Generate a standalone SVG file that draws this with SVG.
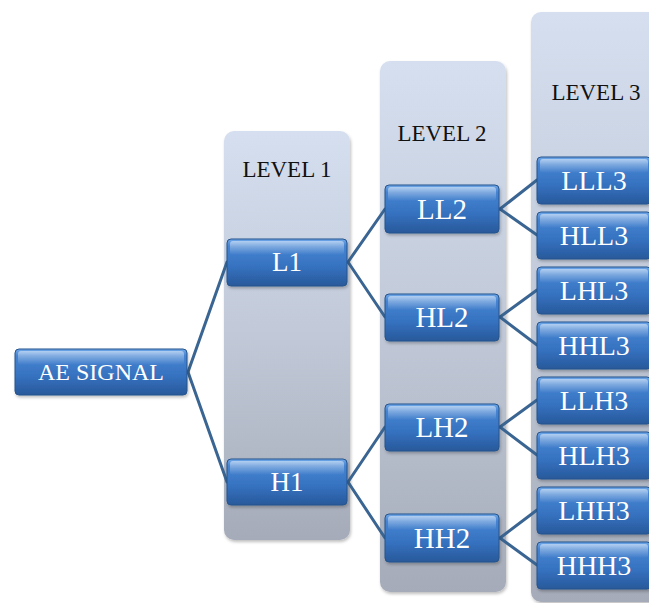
<svg xmlns="http://www.w3.org/2000/svg" width="649" height="603" viewBox="0 0 649 603">
<defs>
<linearGradient id="panelG" x1="0" y1="0" x2="0" y2="1">
<stop offset="0" stop-color="#D5DFEF"/>
<stop offset="0.5" stop-color="#C1C9D8"/>
<stop offset="1" stop-color="#A5ABB8"/>
</linearGradient>
<linearGradient id="nodeG" x1="0" y1="0" x2="0" y2="1">
<stop offset="0" stop-color="#6FA7E8"/>
<stop offset="0.15" stop-color="#4584D2"/>
<stop offset="0.6" stop-color="#3571BF"/>
<stop offset="1" stop-color="#28599A"/>
</linearGradient>
<linearGradient id="shineG" x1="0" y1="0" x2="0" y2="1">
<stop offset="0" stop-color="#FFFFFF" stop-opacity="0.5"/>
<stop offset="1" stop-color="#FFFFFF" stop-opacity="0"/>
</linearGradient>
<filter id="sh" x="-10%" y="-10%" width="130%" height="130%">
<feDropShadow dx="1" dy="2" stdDeviation="1.5" flood-color="#000" flood-opacity="0.25"/>
</filter>
</defs>
<style>
.panel{fill:url(#panelG);filter:url(#sh)}
.box{fill:url(#nodeG);stroke:#26548C;stroke-width:1;filter:url(#sh)}
.shine{fill:url(#shineG)}
.t{font-family:"Liberation Serif","Times New Roman",serif;fill:#FFFFFF;text-anchor:middle}
.lv{font-family:"Liberation Serif","Times New Roman",serif;fill:#111111;text-anchor:middle;font-size:23px}
.conn line{stroke:#3A6592;stroke-width:3;stroke-linecap:round}
</style>
<rect width="649" height="603" fill="#FFFFFF"/>
<g id="panels">
<rect class="panel" x="224" y="131" width="126" height="409" rx="10"/>
<rect class="panel" x="380" y="61" width="126" height="531" rx="10"/>
<rect class="panel" x="531" y="12" width="140" height="590" rx="10"/>
<text class="lv" x="287" y="177">LEVEL 1</text>
<text class="lv" x="442" y="141">LEVEL 2</text>
<text class="lv" x="596" y="100">LEVEL 3</text>
</g>
<g id="connectors" class="conn">
<line x1="188" y1="372" x2="227" y2="262"/>
<line x1="188" y1="372" x2="227" y2="482"/>
<line x1="348" y1="262" x2="385" y2="209"/>
<line x1="348" y1="262" x2="385" y2="317"/>
<line x1="348" y1="482" x2="385" y2="427"/>
<line x1="348" y1="482" x2="385" y2="538"/>
<line x1="500" y1="209" x2="537" y2="180"/>
<line x1="500" y1="209" x2="537" y2="235"/>
<line x1="500" y1="317" x2="537" y2="290"/>
<line x1="500" y1="317" x2="537" y2="345"/>
<line x1="500" y1="427" x2="537" y2="400"/>
<line x1="500" y1="427" x2="537" y2="455"/>
<line x1="500" y1="538" x2="537" y2="510"/>
<line x1="500" y1="538" x2="537" y2="565"/>
</g>
<g id="ae"><rect class="box" x="15" y="349" width="172" height="46" rx="4"/><rect class="shine" x="18" y="351" width="166" height="14" rx="3"/><text class="t" x="101" y="380" font-size="24">AE SIGNAL</text></g>
<g id="l1"><rect class="box" x="227" y="239" width="120" height="47" rx="4"/><rect class="shine" x="230" y="241" width="114" height="14" rx="3"/><text class="t" x="287" y="271" font-size="27">L1</text></g>
<g id="h1"><rect class="box" x="227" y="459" width="120" height="46" rx="4"/><rect class="shine" x="230" y="461" width="114" height="14" rx="3"/><text class="t" x="287" y="491" font-size="27">H1</text></g>
<g id="ll2"><rect class="box" x="385" y="185" width="114" height="48" rx="4"/><rect class="shine" x="388" y="187" width="108" height="14" rx="3"/><text class="t" x="442" y="219" font-size="29">LL2</text></g>
<g id="hl2"><rect class="box" x="385" y="294" width="114" height="47" rx="4"/><rect class="shine" x="388" y="296" width="108" height="14" rx="3"/><text class="t" x="442" y="327" font-size="29">HL2</text></g>
<g id="lh2"><rect class="box" x="385" y="404" width="114" height="47" rx="4"/><rect class="shine" x="388" y="406" width="108" height="14" rx="3"/><text class="t" x="442" y="437" font-size="29">LH2</text></g>
<g id="hh2"><rect class="box" x="385" y="514" width="114" height="48" rx="4"/><rect class="shine" x="388" y="516" width="108" height="14" rx="3"/><text class="t" x="442" y="548" font-size="29">HH2</text></g>
<g id="lll3"><rect class="box" x="537" y="157" width="114" height="47" rx="4"/><rect class="shine" x="540" y="159" width="108" height="14" rx="3"/><text class="t" x="594" y="190" font-size="28">LLL3</text></g>
<g id="hll3"><rect class="box" x="537" y="212" width="114" height="47" rx="4"/><rect class="shine" x="540" y="214" width="108" height="14" rx="3"/><text class="t" x="594" y="245" font-size="28">HLL3</text></g>
<g id="lhl3"><rect class="box" x="537" y="267" width="114" height="47" rx="4"/><rect class="shine" x="540" y="269" width="108" height="14" rx="3"/><text class="t" x="594" y="300" font-size="28">LHL3</text></g>
<g id="hhl3"><rect class="box" x="537" y="322" width="114" height="47" rx="4"/><rect class="shine" x="540" y="324" width="108" height="14" rx="3"/><text class="t" x="594" y="355" font-size="28">HHL3</text></g>
<g id="llh3"><rect class="box" x="537" y="377" width="114" height="47" rx="4"/><rect class="shine" x="540" y="379" width="108" height="14" rx="3"/><text class="t" x="594" y="410" font-size="28">LLH3</text></g>
<g id="hlh3"><rect class="box" x="537" y="432" width="114" height="47" rx="4"/><rect class="shine" x="540" y="434" width="108" height="14" rx="3"/><text class="t" x="594" y="465" font-size="28">HLH3</text></g>
<g id="lhh3"><rect class="box" x="537" y="487" width="114" height="47" rx="4"/><rect class="shine" x="540" y="489" width="108" height="14" rx="3"/><text class="t" x="594" y="520" font-size="28">LHH3</text></g>
<g id="hhh3"><rect class="box" x="537" y="542" width="114" height="47" rx="4"/><rect class="shine" x="540" y="544" width="108" height="14" rx="3"/><text class="t" x="594" y="575" font-size="28">HHH3</text></g>
</svg>
